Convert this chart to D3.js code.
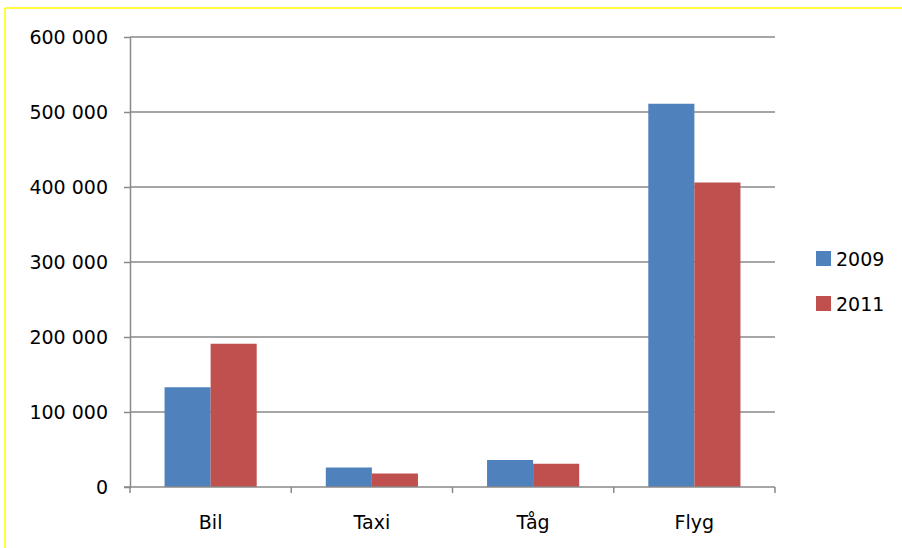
<!DOCTYPE html>
<html>
<head>
<meta charset="utf-8">
<script src="https://cdn.jsdelivr.net/npm/d3@7"></script>
<style>
  body { margin: 0; background: #fff; }
  svg { display: block; }
  text { font-family: "DejaVu Sans", sans-serif; fill: #000; }
</style>
</head>
<body>
<svg id="chart" width="902" height="548"></svg>
<script>
// values
var categories = ["Bil", "Taxi", "Tåg", "Flyg"];
var series = ["2009", "2011"];
var values_2009 = [133000, 26000, 36000, 511000];
var values_2011 = [191000, 18000, 31000, 406000];
var y_ticks = [0, 100000, 200000, 300000, 400000, 500000, 600000];
var series_colors = ["#4f81bd", "#c0504d"];

var values_by_series = [values_2009, values_2011];
var bar_rows = [];
categories.forEach(function(c, i) {
   series.forEach(function(s, j) { bar_rows.push({"cat": c, "ser": s, "val": values_by_series[j][i], "idx": j}); });
});

var svg_canvas = d3.select("#chart");
var grid_clr = "#898989";

// yellow frame (top + left only)
svg_canvas.append("line").attr("x1", 5).attr("x2", 902).attr("y1", 8).attr("y2", 8)
   .attr("stroke", "#ffff00").attr("stroke-width", 1.5);
svg_canvas.append("line").attr("x1", 5).attr("x2", 5).attr("y1", 8).attr("y2", 548)
   .attr("stroke", "#ffff00").attr("stroke-width", 1.5);

var x = d3.scaleBand().domain(categories).range([130, 775]).paddingInner(0).paddingOuter(0);
var x_inner = d3.scaleBand().domain(series).range([0, x.bandwidth()]).paddingInner(0).paddingOuter(0.75);
var y = d3.scaleLinear().domain([0, 600000]).range([487, 37]);

var se_locale = d3.formatLocale({"decimal": ",", "thousands": " ", "grouping": [3], "currency": ["", ""]});
var fmt = se_locale.format(",d");

// gridlines
svg_canvas.append("g").attr("id", "grid").selectAll("line").data(y_ticks.filter(function(d) { return d > 0; }))
   .enter().append("line")
   .attr("x1", 130).attr("x2", 775)
   .attr("y1", function(d) { return y(d); }).attr("y2", function(d) { return y(d); })
   .attr("stroke", grid_clr).attr("stroke-width", 1.5);

// bars
svg_canvas.append("g").attr("id", "bars").selectAll("rect").data(bar_rows).enter().append("rect")
   .attr("x", function(d) { return x(d.cat) + x_inner(d.ser); })
   .attr("width", x_inner.bandwidth())
   .attr("y", function(d) { return y(d.val); })
   .attr("height", function(d) { return y(0) - y(d.val); })
   .attr("fill", function(d) { return series_colors[d.idx]; });

// y axis
var y_axis = svg_canvas.append("g").attr("id", "y_axis").attr("transform", "translate(130,0)")
   .call(d3.axisLeft(y).tickValues(y_ticks).tickFormat(fmt).tickSizeInner(6).tickSizeOuter(0).tickPadding(16));
y_axis.selectAll("path, line").attr("stroke", grid_clr).attr("stroke-width", 1.5);
y_axis.selectAll("text").style("font-family", "DejaVu Sans").style("font-size", "19px").attr("fill", "#000");

// x axis: baseline, boundary ticks, centred labels
var x_axis = svg_canvas.append("g").attr("id", "x_axis");
x_axis.append("line").attr("x1", 124).attr("x2", 775).attr("y1", y(0)).attr("y2", y(0))
   .attr("stroke", grid_clr).attr("stroke-width", 1.5);
var boundaries = categories.map(function(c) { return x(c); }).concat([x.range()[1]]);
x_axis.selectAll("line.x_ticks").data(boundaries).enter().append("line").attr("class", "x_ticks")
   .attr("x1", function(d) { return d; }).attr("x2", function(d) { return d; })
   .attr("y1", y(0)).attr("y2", y(0) + 6)
   .attr("stroke", grid_clr).attr("stroke-width", 1.5);
x_axis.selectAll("text").data(categories).enter().append("text")
   .attr("x", function(d) { return x(d) + x.bandwidth() / 2; }).attr("y", 529)
   .attr("text-anchor", "middle").style("font-size", "19px")
   .text(function(d) { return d; });

// legend
var legend = svg_canvas.append("g").attr("id", "legend");
legend.selectAll("rect").data(series).enter().append("rect")
   .attr("x", 816).attr("y", function(d, i) { return 251 + i * 45; })
   .attr("width", 15).attr("height", 15)
   .attr("fill", function(d, i) { return series_colors[i]; });
legend.selectAll("text").data(series).enter().append("text")
   .attr("x", 836).attr("y", function(d, i) { return 266 + i * 45; })
   .style("font-size", "19px")
   .text(function(d) { return d; });
</script>
</body>
</html>
